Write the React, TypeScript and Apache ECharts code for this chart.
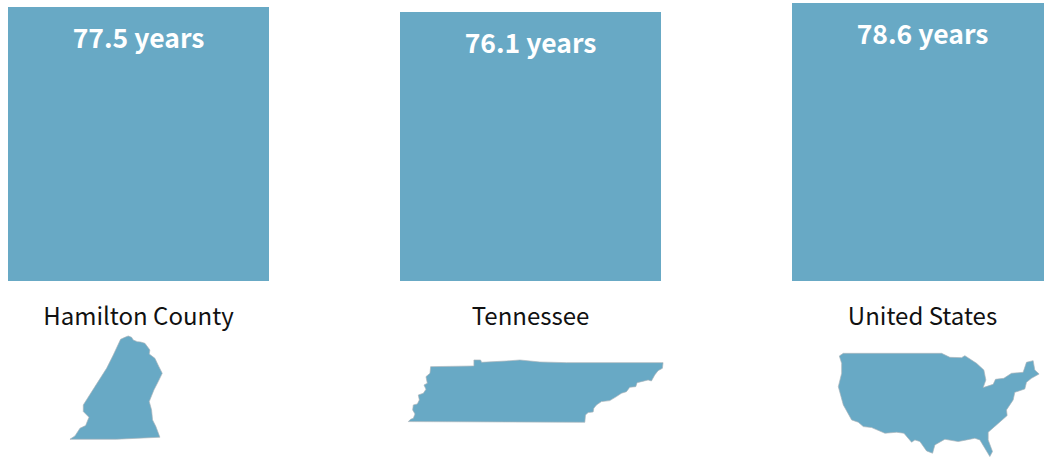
import React, { useEffect, useRef } from "react";
import * as echarts from "echarts";

const categories = ["Hamilton County", "Tennessee", "United States"];
const lifeExpectancy = [77.5, 76.1, 78.6];
const BLUE = "#68a9c5";
const FONT = '"Noto Sans CJK SC", "Noto Sans", sans-serif';

const hamiltonOutline = [[60,328],[75,318],[90,295],[107,287],[117,262],[100,245],[100,225],[135,170],[170,115],[190,75],[212,28],[225,22],[235,18],[245,22],[250,30],[262,35],[272,36],[285,40],[300,60],[298,72],[315,85],[327,110],[337,130],[325,155],[312,180],[298,215],[305,240],[308,270],[318,290],[330,322],[200,328]];
const tennesseeOutline = [[25,215],[32,208],[40,205],[45,192],[38,180],[40,165],[52,162],[58,150],[55,135],[70,130],[78,118],[72,105],[82,100],[78,80],[90,70],[92,50],[222,48],[222,30],[242,30],[245,37],[320,33],[360,30],[420,36],[500,38],[790,38],[788,55],[775,62],[765,75],[755,93],[745,90],[725,95],[712,98],[708,110],[690,112],[680,125],[665,130],[650,140],[630,152],[605,155],[590,165],[582,175],[580,186],[565,188],[557,195],[555,217]];
const usOutline = [[28,33],[40,25],[335,25],[360,37],[395,38],[405,32],[440,55],[462,75],[468,105],[460,128],[490,118],[497,103],[522,100],[545,85],[580,82],[590,52],[610,47],[615,75],[628,87],[605,100],[590,112],[585,132],[555,142],[550,165],[530,195],[532,212],[500,240],[475,262],[475,285],[488,320],[480,335],[465,310],[450,285],[435,280],[410,285],[385,290],[345,283],[315,300],[308,325],[290,318],[270,290],[255,285],[245,292],[222,265],[200,262],[165,265],[125,248],[100,245],[85,232],[65,225],[40,180],[25,125],[35,85],[35,55]];

const toPath = (pts: number[][]) =>
  "M" + pts.map((p) => p.join(" ")).join("L") + "Z";

echarts.graphic.registerShape("hamiltonShape", echarts.graphic.extendPath(toPath(hamiltonOutline), {}));
echarts.graphic.registerShape("tennesseeShape", echarts.graphic.extendPath(toPath(tennesseeOutline), {}));
echarts.graphic.registerShape("usShape", echarts.graphic.extendPath(toPath(usOutline), {}));

const mapStyle = { fill: BLUE, stroke: "#a9b4ba", lineWidth: 2 };

export default function App() {
  const ref = useRef<HTMLDivElement>(null);
  useEffect(() => {
    document.body.style.margin = "0";
    const chart = echarts.init(ref.current!, undefined, { renderer: "svg" });
    chart.setOption({
      animation: false,
      backgroundColor: "#ffffff",
      grid: { left: 138.5, width: 784, top: 0, height: 281, containLabel: false },
      xAxis: {
        type: "category",
        data: categories,
        boundaryGap: false,
        axisLine: { show: false },
        axisTick: { show: false },
        axisLabel: {
          margin: 21,
          fontFamily: FONT,
          fontSize: 24,
          color: "#111111",
          interval: 0,
          hideOverlap: false,
        },
      },
      yAxis: { type: "value", min: 0, max: 79.47, show: false, splitLine: { show: false } },
      series: [
        {
          type: "bar",
          data: lifeExpectancy,
          barWidth: 261,
          clip: false,
          itemStyle: { color: BLUE },
          label: {
            show: true,
            position: "insideTop",
            distance: 16,
            formatter: (p: any) => `${p.value.toFixed(1)} years`,
            fontFamily: FONT,
            fontWeight: 700,
            fontSize: 26.5,
            color: "#ffffff",
          },
        },
      ],
      graphic: [
        { type: "hamiltonShape", x: 50, y: 330, scaleX: 1 / 3, scaleY: 1 / 3, style: mapStyle },
        { type: "tennesseeShape", x: 400, y: 350, scaleX: 1 / 3, scaleY: 1 / 3, style: mapStyle },
        { type: "usShape", x: 830, y: 345, scaleX: 1 / 3, scaleY: 1 / 3, style: mapStyle },
      ],
    });
    return () => chart.dispose();
  }, []);
  return <div ref={ref} style={{ width: 1044, height: 457 }} />;
}
